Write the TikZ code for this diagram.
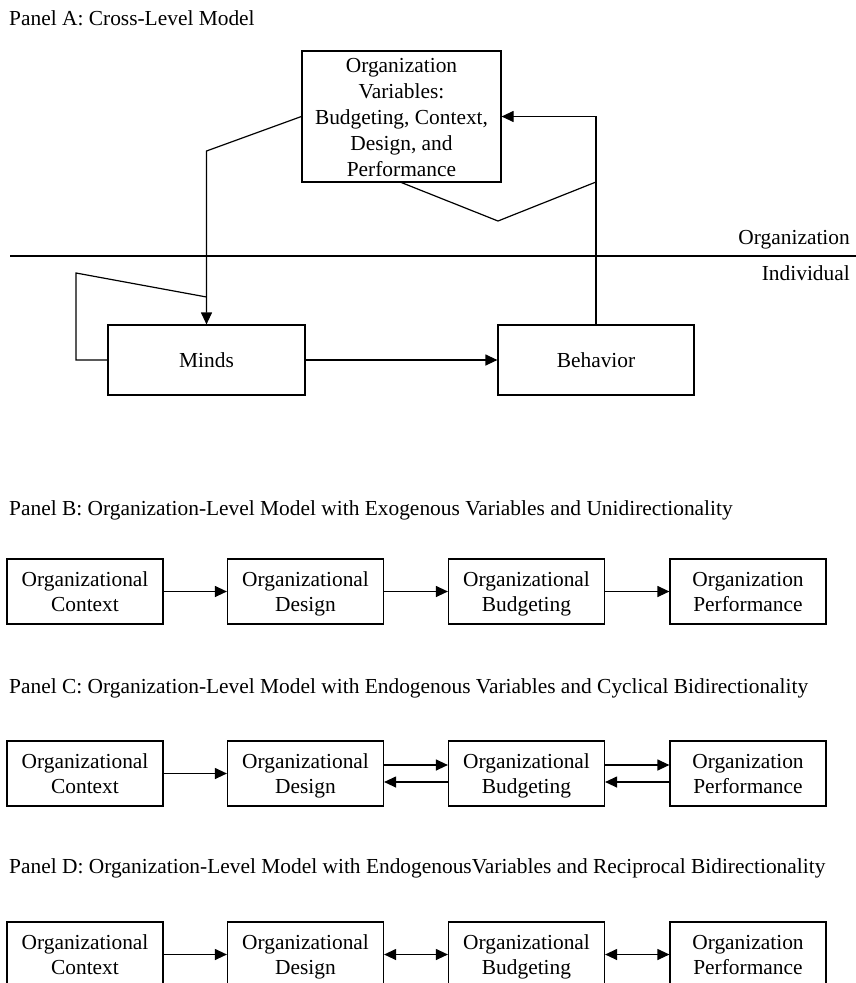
\documentclass[tikz,border=0pt]{standalone}
\usepackage{fontspec}
\setmainfont{Liberation Serif}
\usetikzlibrary{arrows.meta}
\newcommand{\twol}[2]{\rule{0pt}{21.5pt}#1\\#2\strut}
\begin{document}
\begin{tikzpicture}[x=1pt,y=-1pt,
  every node/.style={font=\fontsize{21.4}{25}\selectfont, inner sep=0pt},
  boxnode/.style={draw, line width=1.2pt, align=center, minimum width=156pt, minimum height=65pt},
  bigbox/.style={draw, line width=1.2pt, align=center},
  title/.style={anchor=west},
  conn/.style={line width=1.2pt},
  arr/.style={conn, -{Triangle[length=12pt,width=11pt]}},
  darr/.style={conn, {Triangle[length=12pt,width=11pt]}-{Triangle[length=12pt,width=11pt]}}
]
\useasboundingbox (0,0) rectangle (856,983);

% ---------- Panel A ----------
\node[title] (tA) at (9,18) {Panel A: Cross-Level Model};
\node[bigbox, minimum width=199pt, minimum height=131pt,
      font=\fontsize{21.4}{26}\selectfont] (org) at (401.5,116.5)
  {\rule{0pt}{21pt}Organization\\Variables:\\Budgeting, Context,\\Design, and\\Performance\rule[-6pt]{0pt}{6pt}};
\node[bigbox, minimum width=197pt, minimum height=70pt] (minds) at (206.5,360) {Minds};
\node[bigbox, minimum width=196pt, minimum height=70pt] (behav) at (596,360) {Behavior};

\coordinate (hl) at (10,256);
\coordinate (hr) at (856,256);
\draw[conn] (hl) -- (hr);
\node[anchor=east] (lorg) at (850,240) {Organization};
\node[anchor=east] (lind) at (850,273) {Individual};

\coordinate (bendA) at (206.5,151);
\draw[arr] (org.west) -- (bendA) -- (minds.north);

\coordinate (loopA) at (76,360);
\coordinate (loopB) at (76,273);
\coordinate (loopC) at (206.5,297);
\draw[conn] (minds.west) -- (loopA) -- (loopB) -- (loopC);

\draw[arr] (minds.east) -- (behav.west);
\draw[arr] (behav.north) |- (org.east);

\coordinate (v1) at (400,182);
\coordinate (v2) at (498,221);
\coordinate (v3) at (596,182);
\draw[conn] (v1) -- (v2) -- (v3);

% ---------- Panel B ----------
\node[title] (tB) at (9,510) {Panel B: Organization-Level Model with Exogenous Variables and Unidirectionality};
\node[boxnode] (b1) at (85,591.5) {\twol{Organizational}{Context}};
\node[boxnode] (b2) at (305.5,591.5) {\twol{Organizational}{Design}};
\node[boxnode] (b3) at (526.5,591.5) {\twol{Organizational}{Budgeting}};
\node[boxnode] (b4) at (748,591.5) {\twol{Organization}{Performance}};
\draw[arr] (b1) -- (b2);
\draw[arr] (b2) -- (b3);
\draw[arr] (b3) -- (b4);

% ---------- Panel C ----------
\node[title] (tC) at (9,688) {Panel C: Organization-Level Model with Endogenous Variables and Cyclical Bidirectionality};
\node[boxnode] (c1) at (85,773.5) {\twol{Organizational}{Context}};
\node[boxnode] (c2) at (305.5,773.5) {\twol{Organizational}{Design}};
\node[boxnode] (c3) at (526.5,773.5) {\twol{Organizational}{Budgeting}};
\node[boxnode] (c4) at (748,773.5) {\twol{Organization}{Performance}};
\draw[arr] (c1) -- (c2);
\draw[arr] ([yshift=8.5pt]c2.east) -- ([yshift=8.5pt]c3.west);
\draw[arr] ([yshift=-8.5pt]c3.west) -- ([yshift=-8.5pt]c2.east);
\draw[arr] ([yshift=8.5pt]c3.east) -- ([yshift=8.5pt]c4.west);
\draw[arr] ([yshift=-8.5pt]c4.west) -- ([yshift=-8.5pt]c3.east);

% ---------- Panel D ----------
\node[title] (tD) at (9,868) {Panel D: Organization-Level Model with EndogenousVariables and Reciprocal Bidirectionality};
\node[boxnode] (d1) at (85,954.5) {\twol{Organizational}{Context}};
\node[boxnode] (d2) at (305.5,954.5) {\twol{Organizational}{Design}};
\node[boxnode] (d3) at (526.5,954.5) {\twol{Organizational}{Budgeting}};
\node[boxnode] (d4) at (748,954.5) {\twol{Organization}{Performance}};
\draw[arr] (d1) -- (d2);
\draw[darr] (d2) -- (d3);
\draw[darr] (d3) -- (d4);
\end{tikzpicture}
\end{document}
